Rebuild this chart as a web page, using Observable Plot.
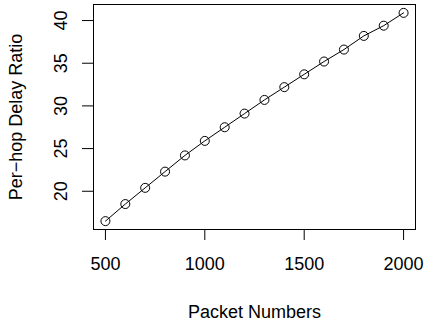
<!DOCTYPE html>
<html><head><meta charset="utf-8">
<script src="https://cdn.jsdelivr.net/npm/d3@7"></script>
<script src="https://cdn.jsdelivr.net/npm/@observablehq/plot@0.6"></script>
<style>body{margin:0;background:#fff}</style>
</head><body><div id="chart"></div>
<script>
const packets = [500,600,700,800,900,1000,1100,1200,1300,1400,1500,1600,1700,1800,1900,2000];
const delayRatio = [16.5,18.5,20.4,22.3,24.2,25.9,27.5,29.1,30.7,32.2,33.7,35.2,36.6,38.2,39.4,40.9];
const xTicks = [500,1000,1500,2000];
const yTicks = [20,25,30,35,40];
const xLabel = "Packet Numbers";
const yLabel = "Per\u2212hop Delay Ratio";

const data = packets.map((p, i) => ({p, r: delayRatio[i]}));
const font = "'Liberation Sans', Arial, Helvetica, sans-serif";

const chart = Plot.plot({
  width: 427, height: 324,
  marginLeft: 93, marginRight: 12, marginTop: 4, marginBottom: 95,
  style: {fontFamily: font, background: "white", color: "black"},
  x: {domain: [440, 2060]},
  y: {domain: [15.52, 41.88]},
  marks: [
    Plot.frame({stroke: "black"}),
    Plot.axisX(xTicks, {tickSize: 11, tickPadding: 17, fontSize: 18, label: null, tickFormat: d => String(d)}),
    Plot.axisY(yTicks, {tickSize: 11, tickFormat: () => "", label: null}),
    Plot.text(yTicks, {y: d => d, text: d => String(d), frameAnchor: "left", dx: -26.5, rotate: -90,
      textAnchor: "middle", lineAnchor: "bottom", fontSize: 18, fill: "black"}),
    Plot.text([xLabel], {text: d => d, frameAnchor: "bottom", dy: 88, lineAnchor: "bottom",
      textAnchor: "middle", fontSize: 18, fill: "black"}),
    Plot.text([yLabel], {text: d => d, frameAnchor: "left", dx: -72, rotate: -90, lineAnchor: "bottom",
      textAnchor: "middle", fontSize: 18, fill: "black"}),
    Plot.line(data, {x: "p", y: "r", stroke: "black", strokeWidth: 1}),
    Plot.dot(data, {x: "p", y: "r", r: 4.5, stroke: "black", fill: "none", strokeWidth: 1})
  ]
});
document.getElementById("chart").appendChild(chart);
</script>
</body></html>
